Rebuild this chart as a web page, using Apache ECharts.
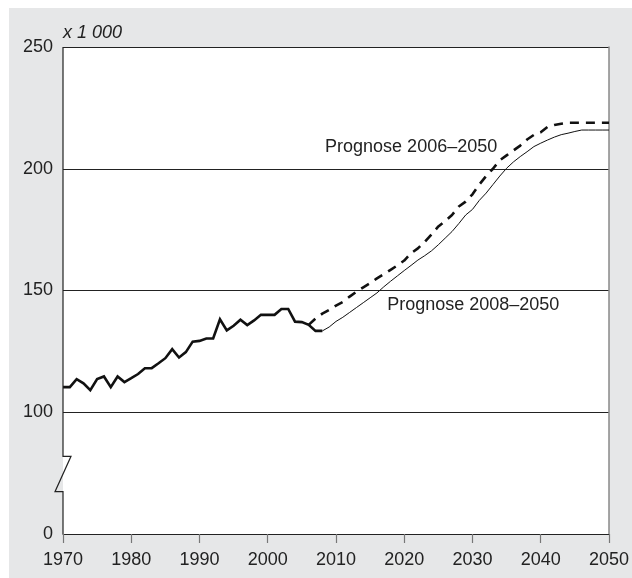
<!DOCTYPE html>
<html>
<head>
<meta charset="utf-8">
<script src="https://cdn.jsdelivr.net/npm/echarts@6/dist/echarts.min.js"></script>
<style>
html,body{margin:0;padding:0;background:#fff;width:632px;height:578px;overflow:hidden;}
#bg{position:absolute;left:9px;top:8px;right:0;bottom:0;background:#e6e7e8;}
#chart{position:absolute;left:0;top:0;width:632px;height:578px;}
</style>
</head>
<body>
<div id="bg"></div>
<div id="chart"></div>
<script>
// ---- data ----
const histYears = [1970,1971,1972,1973,1974,1975,1976,1977,1978,1979,1980,1981,1982,1983,1984,1985,1986,1987,1988,1989,1990,1991,1992,1993,1994,1995,1996,1997,1998,1999,2000,2001,2002,2003,2004,2005,2006,2007,2008];
const histValues = [110.3,110.3,113.6,111.9,109.1,113.6,114.7,110.3,114.7,112.4,114.0,115.7,118.1,118.1,120.1,122.2,125.9,122.5,124.7,129.0,129.3,130.3,130.3,138.2,133.6,135.5,138.0,135.8,137.7,140.0,140.0,140.0,142.4,142.4,137.2,137.0,135.9,133.4,133.4];

const prog06Years = [2006,2007,2008,2009,2010,2011,2012,2013,2014,2015,2016,2017,2018,2019,2020,2021,2022,2023,2024,2025,2026,2027,2028,2029,2030,2031,2032,2033,2034,2035,2036,2037,2038,2039,2040,2041,2042,2043,2044,2045,2046,2047,2048,2049,2050];
const prog06Values = [135.9,138.5,140.5,142.0,143.8,145.3,147.5,149.5,151.3,153.0,155.0,156.7,158.5,160.3,162.3,165.3,167.3,170.0,173.0,176.3,178.5,181.0,184.5,186.5,189.5,193.5,197.0,200.0,203.5,205.5,207.5,209.5,212.0,213.9,215.0,217.2,218.0,218.5,218.9,218.9,218.9,218.9,218.9,218.9,218.9];

const prog08Years = [2008,2009,2010,2011,2012,2013,2014,2015,2016,2017,2018,2019,2020,2021,2022,2023,2024,2025,2026,2027,2028,2029,2030,2031,2032,2033,2034,2035,2036,2037,2038,2039,2040,2041,2042,2043,2044,2045,2046,2047,2048,2049,2050];
const prog08Values = [133.4,135.0,137.3,139.0,141.0,143.0,145.0,147.0,149.0,151.5,153.8,156.0,158.2,160.3,162.5,164.3,166.3,168.8,171.5,174.2,177.5,181.0,183.3,187.0,190.0,193.5,197.0,200.2,202.8,205.0,207.0,209.1,210.5,211.8,213.0,214.0,214.6,215.3,215.9,215.9,215.9,215.9,215.9];

const xTicks = [1970,1980,1990,2000,2010,2020,2030,2040,2050];
const yTicks = [50,100,150,200,250];        // 50 is drawn as the broken-axis "0"
const yTickLabels = ['0','100','150','200','250'];
const unitLabel = 'x 1 000';
const label06 = 'Prognose 2006\u20132050';
const label08 = 'Prognose 2008\u20132050';

const pair = (xs, vs) => xs.map((x, i) => [x, vs[i]]);
const FONT = "'Liberation Sans', Arial, Helvetica, sans-serif";

const chart = echarts.init(document.getElementById('chart'));
const option = {
  animation: false,
  grid: { left: 63, right: 21, top: 47, bottom: 44, show: true, backgroundColor: '#fff', borderWidth: 0 },
  xAxis: {
    type: 'value', min: xTicks[0], max: xTicks[xTicks.length-1], interval: 10,
    axisLine: { show: true, lineStyle: { color: '#222', width: 1 } },
    axisTick: { show: true, length: 9, inside: false, lineStyle: { color: '#777', width: 1.2 } },
    axisLabel: { color: '#222', fontSize: 18, fontFamily: FONT, margin: 17, formatter: v => String(v) },
    splitLine: { show: false }
  },
  yAxis: [{
    type: 'value', min: yTicks[0], max: yTicks[yTicks.length-1], interval: 50,
    axisLine: { show: false },
    axisTick: { show: false },
    axisLabel: { color: '#222', fontSize: 18, fontFamily: FONT, margin: 10,
      formatter: v => { const i = yTicks.indexOf(v); return i >= 0 ? yTickLabels[i] : ''; } },
    splitLine: { show: true, lineStyle: { color: '#222', width: 1 } }
  }, {
    type: 'value', position: 'right', min: yTicks[0], max: yTicks[yTicks.length-1], interval: 50,
    axisLine: { show: true, lineStyle: { color: '#888', width: 1.5 } },
    axisTick: { show: false }, axisLabel: { show: false }, splitLine: { show: false }
  }],
  series: [
    { type: 'line', data: pair(prog08Years, prog08Values), showSymbol: false, symbol: 'none',
      lineStyle: { color: '#111', width: 1 }, z: 3 },
    { type: 'line', data: pair(prog06Years, prog06Values), showSymbol: false, symbol: 'none',
      lineStyle: { color: '#111', width: 2.6, type: [9, 7] }, z: 4 },
    { type: 'line', data: pair(histYears, histValues), showSymbol: false, symbol: 'none',
      lineStyle: { color: '#111', width: 2.6, join: 'miter' }, z: 5 }
  ]
};
chart.setOption(option);

function decorate() {
  const p = (x, y) => chart.convertToPixel({ xAxisIndex: 0, yAxisIndex: 0 }, [x, y]);
  const bottom = p(1970, 50), low = p(1970, 67.4), high = p(1970, 81.9), top = p(1970, 250);
  const ax = bottom[0];
  const t06 = p(2008.4, 209.1), t08 = p(2017.5, 144.1);
  chart.setOption({
    graphic: [
      { type: 'polyline', shape: { points: [
          [ax, bottom[1]], [ax, low[1]], [ax - 8, low[1]], [ax + 8, high[1]], [ax, high[1]], [ax, top[1]]
        ] }, style: { stroke: '#222', lineWidth: 1.2, fill: null }, z: 10 },
      { type: 'text', x: ax, y: 33, style: { text: unitLabel, font: "italic 18px " + FONT, fill: '#222', textVerticalAlign: 'middle' }, z: 10 },
      { type: 'text', x: t06[0], y: t06[1], style: { text: label06, font: "18px " + FONT, fill: '#222', textVerticalAlign: 'middle' }, z: 10 },
      { type: 'text', x: t08[0], y: t08[1], style: { text: label08, font: "18px " + FONT, fill: '#222', textVerticalAlign: 'middle' }, z: 10 }
    ]
  });
}
decorate();
</script>
</body>
</html>
